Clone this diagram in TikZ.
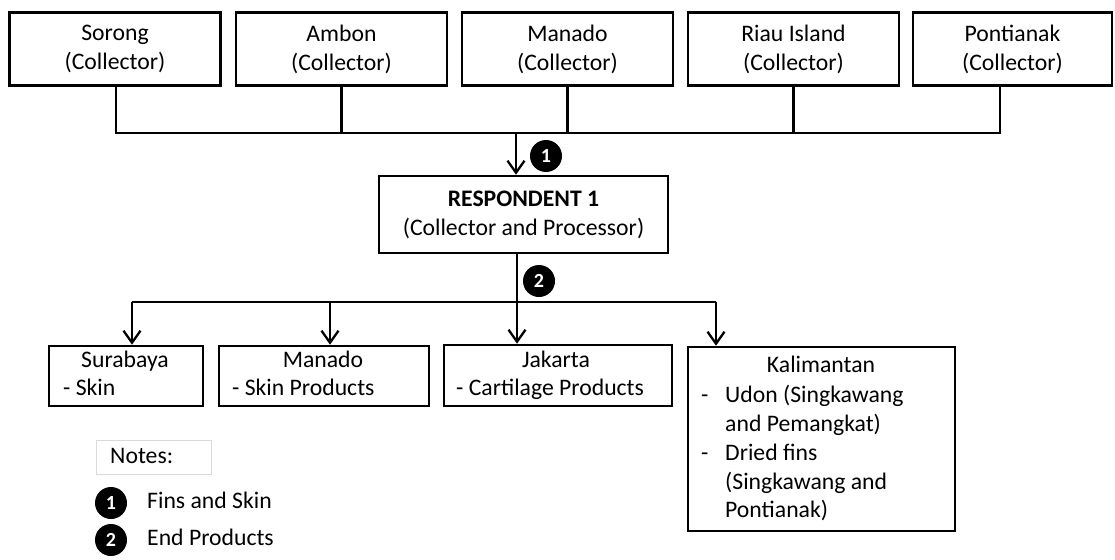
\documentclass[tikz,border=0pt]{standalone}
\usepackage{fontspec}
\setmainfont{Carlito}
\usetikzlibrary{arrows.meta,calc}

\newcommand{\bodyfont}{\fontsize{23.7}{29}\selectfont}

\begin{document}
\begin{tikzpicture}[x=1pt,y=-1pt,
  topbox/.style={draw, line width=2.6pt, inner sep=0pt, align=center,
    minimum width=#1, minimum height=73pt, font=\bodyfont},
  outbox/.style={draw, line width=2.6pt, inner sep=0pt},
  lbl/.style={inner sep=0pt, text height=17pt, text depth=6pt, font=\bodyfont},
  link/.style={line width=2.3pt},
  arr/.style={link, -{Straight Barb[length=12pt,width=17pt]}},
  badge/.style={circle, fill=black, text=white, inner sep=0pt,
    minimum size=32pt, font=\fontsize{20}{20}\selectfont\bfseries}]

\useasboundingbox (0,0) rectangle (1115,559);

% collectors
\node[topbox=211pt] (sor)  at (115,49)    {Sorong\\(Collector)};
\node[topbox=211pt] (amb)  at (341.5,49)  {Ambon\\(Collector)};
\node[topbox=211pt] (man)  at (567.5,49)  {Manado\\(Collector)};
\node[topbox=211pt] (riau) at (793.5,49)  {Riau Island\\(Collector)};
\node[topbox=199pt] (pon)  at (1012.5,49) {Pontianak\\(Collector)};

% respondent
\node[draw, line width=2.6pt, inner sep=0pt, align=center,
  minimum width=289pt, minimum height=77pt, font=\bodyfont]
  (resp) at (523.5,214.5) {\textbf{RESPONDENT 1}\\(Collector and Processor)};

% collecting bus
\coordinate (j1) at (116,133);
\coordinate (j5) at (1000,133);
\coordinate (in1) at (516,133);
\draw[link] (sor.south -| j1) -- (j1) -- (j5) -- (pon.south -| j5);
\draw[link] (amb.south) -- (amb.south |- j1);
\draw[link] (man.south) -- (man.south |- j1);
\draw[link] (riau.south) -- (riau.south |- j1);
\draw[arr] (in1) -- (in1 |- resp.north);
\node[badge] (b1) at (546,156) {1};

% destinations
\node[outbox, minimum width=154pt, minimum height=60pt] (sur) at (126,376) {};
\node[outbox, minimum width=210pt, minimum height=60pt] (mnd) at (324,376) {};
\node[outbox, minimum width=228pt, minimum height=61pt] (jak) at (558,375.5) {};
\node[outbox, minimum width=267pt, minimum height=184pt] (kal) at (821.5,439) {};

\node[lbl] (sur1) at (125,362) {Surabaya};
\node[lbl, anchor=west] (sur2) at (63,390) {- Skin};
\node[lbl] (mnd1) at (323,362) {Manado};
\node[lbl, anchor=west] (mnd2) at (232,390) {- Skin Products};
\node[lbl] (jak1) at (556,362) {Jakarta};
\node[lbl, anchor=west] (jak2) at (456,390) {- Cartilage Products};
\node[lbl] (kal1) at (821,367) {Kalimantan};
\node[lbl, anchor=west] (kald1) at (701,397) {-};
\node[lbl, anchor=west] (kal2) at (725,397) {Udon (Singkawang};
\node[lbl, anchor=west] (kal3) at (725,426) {and Pemangkat)};
\node[lbl, anchor=west] (kald2) at (701,455) {-};
\node[lbl, anchor=west] (kal4) at (725,455) {Dried fins};
\node[lbl, anchor=west] (kal5) at (725,484) {(Singkawang and};
\node[lbl, anchor=west] (kal6) at (725,512) {Pontianak)};

% distribution bus
\coordinate (out) at (517,302);
\coordinate (d1) at (132,302);
\coordinate (d2) at (330,302);
\coordinate (d4) at (716,302);
\draw[link] (resp.south -| out) -- (out);
\draw[link] (d1) -- (d4);
\draw[arr] (d1) -- (d1 |- sur.north);
\draw[arr] (d2) -- (d2 |- mnd.north);
\draw[arr] (out) -- (out |- jak.north);
\draw[arr] (d4) -- (d4 |- kal.north);
\node[badge] (b2) at (539,281) {2};

% legend
\node[draw=black!15, line width=1pt, minimum width=115pt, minimum height=34pt,
  inner sep=0pt] (notes) at (153.5,457) {};
\node[lbl, anchor=west] (notes-t) at (110,458) {Notes:};
\node[badge] (n1) at (111,503) {1};
\node[lbl, anchor=west] (n1-t) at (147,503) {Fins and Skin};
\node[badge] (n2) at (111,540) {2};
\node[lbl, anchor=west] (n2-t) at (147,540) {End Products};

\end{tikzpicture}
\end{document}
